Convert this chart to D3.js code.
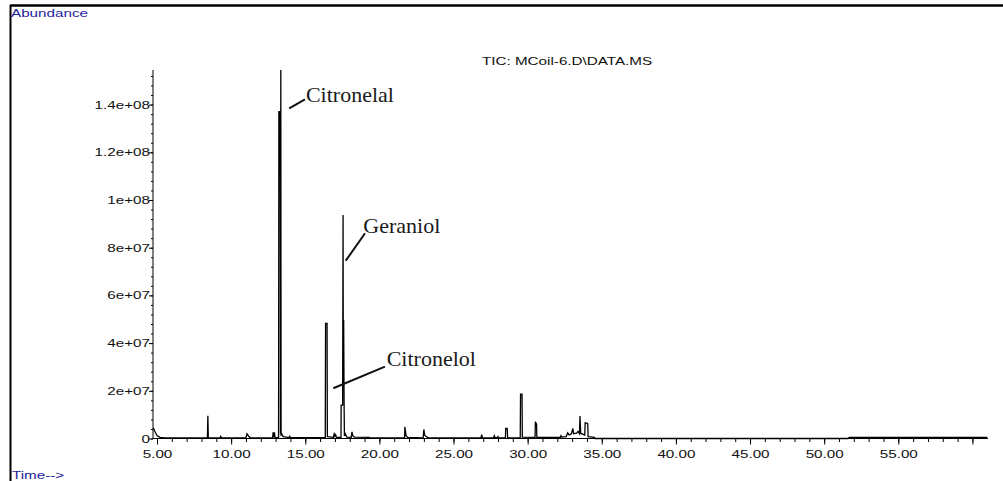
<!DOCTYPE html>
<html>
<head>
<meta charset="utf-8">
<title>TIC MCoil-6</title>
<style>
body { margin: 0; background: #fff; }
.lbl { font-family: "Liberation Sans", Arial, sans-serif; font-size: 10.5px; fill: #111; }
.blue { fill: #22229a; }
.ann { font-family: "Liberation Serif", "Times New Roman", serif; font-size: 22px; fill: #1a1a1a; }
.trace { fill: none; stroke: #000; stroke-width: 1.3px; stroke-linejoin: miter; }
</style>
<script src="https://cdn.jsdelivr.net/npm/d3@7"></script>
</head>
<body>
<svg width="1003" height="481"></svg>
<script>
// retention time (min) and abundance of the TIC trace
var times = [
  4.75, 4.85, 5.0, 5.2, 5.5, 7.9, 8.40, 8.43, 8.46, 9.25, 9.3, 9.35,
  11.0, 11.07, 11.2, 11.3, 12.8, 12.83, 12.87, 12.92, 12.96, 13.20,
  13.22, 13.30, 13.33, 13.35, 13.37, 13.42, 13.5, 13.9, 13.95, 14.0,
  16.35, 16.37, 16.47, 16.49, 16.9, 16.95, 17.0, 17.05, 17.1, 17.41,
  17.42, 17.52, 17.55, 17.56, 17.59, 17.62, 17.64, 17.7, 17.8, 18.1,
  18.15, 18.2, 18.3, 19.3, 19.35, 21.7, 21.72, 21.8, 21.9, 22.95, 23.0,
  23.05, 23.15, 23.3, 26.85, 26.9, 26.95, 27.7, 27.75, 27.8, 27.95, 28.0,
  28.05, 28.5, 28.52, 28.62, 28.65, 29.5, 29.52, 29.62, 29.64, 30.5,
  30.52, 30.6, 30.62, 32.2, 32.25, 32.3, 32.6, 32.7, 32.8, 32.95, 33.05,
  33.1, 33.3, 33.4, 33.5, 33.53, 33.58, 33.85, 33.88, 34.05, 34.08, 34.5,
  34.55, 51.6, 51.7, 61.0
];
var abundance = [
  4.5e6, 3.0e6, 1.2e6, 0.5e6, 0.3e6, 0.3e6, 0.3e6, 9.5e6, 0.3e6, 0.3e6, 0.9e6, 0.3e6,
  0.3e6, 2.0e6, 0.8e6, 0.3e6, 0.3e6, 2.6e6, 0.6e6, 2.6e6, 0.5e6, 0.4e6,
  1.37e8, 1.37e8, 2.0e6, 1.545e8, 1.5e6, 1.8e6, 0.8e6, 0.4e6, 0.9e6, 0.4e6,
  0.4e6, 4.83e7, 4.83e7, 0.8e6, 0.5e6, 1.9e6, 1.0e6, 1.6e6, 0.5e6, 0.5e6,
  1.4e7, 1.4e7, 9.37e7, 4.95e7, 4.95e7, 1.4e7, 1.0e6, 2.0e6, 0.6e6, 0.5e6,
  2.8e6, 1.2e6, 0.6e6, 0.5e6, 0.3e6, 0.3e6, 4.9e6, 1.2e6, 0.5e6, 0.3e6, 3.8e6,
  1.5e6, 0.8e6, 0.3e6, 0.3e6, 1.6e6, 0.3e6, 0.3e6, 1.2e6, 0.3e6, 0.5e6, 0.8e6,
  0.3e6, 0.3e6, 4.2e6, 4.2e6, 0.3e6, 0.3e6, 1.86e7, 1.86e7, 0.6e6, 0.5e6,
  7.0e6, 6.0e6, 0.5e6, 0.5e6, 1.2e6, 0.6e6, 0.8e6, 2.4e6, 1.5e6, 2.0e6, 4.2e6,
  2.0e6, 2.2e6, 3.0e6, 2.0e6, 9.4e6, 2.2e6, 1.5e6, 6.6e6, 6.3e6, 0.8e6, 0.5e6,
  0, 0, 0.5e6, 0.5e6
];

var yTicks = [0, 2e7, 4e7, 6e7, 8e7, 1e8, 1.2e8, 1.4e8];
var yTickLabels = ["0", "2e+07", "4e+07", "6e+07", "8e+07", "1e+08", "1.2e+08", "1.4e+08"];
var xTicks = [5, 10, 15, 20, 25, 30, 35, 40, 45, 50, 55, 60];
var xTickLabels = ["5.00", "10.00", "15.00", "20.00", "25.00", "30.00", "35.00", "40.00", "45.00", "50.00", "55.00", ""];

var peakNames = ["Citronelal", "Geraniol", "Citronelol"];
var peakTimes = [13.92, 17.73, 16.89];
var peakLevels = [1.384e8, 7.455e7, 2.105e7];

var svg = d3.select("svg");
var stretch = 1.45;

var x = d3.scaleLinear().domain([4.73, 61.05]).range([153, 988]);
var y = d3.scaleLinear().domain([0, 1.545e8]).range([438.5, 70]);

// frame
svg.append("line").attr("x1", 10).attr("x2", 1003).attr("y1", 5.5).attr("y2", 5.5)
  .attr("stroke", "#000").attr("stroke-width", 2.5);
svg.append("line").attr("x1", 10.5).attr("x2", 10.5).attr("y1", 5).attr("y2", 481)
  .attr("stroke", "#000").attr("stroke-width", 2);

// y axis
var yMinor = d3.range(0, 1.545e8, 4e6);
svg.append("g").attr("transform", "translate(153,0)")
  .call(d3.axisLeft(y).tickValues(yMinor).tickSize(2).tickFormat(""))
  .call(function(g) { g.select(".domain").remove(); });
var yAxis = svg.append("g").attr("transform", "translate(153,0)")
  .call(d3.axisLeft(y).tickValues(yTicks).tickSize(4)
    .tickFormat(function(d, i) { return yTickLabels[i]; }));
yAxis.select(".domain").attr("d", "M0," + y(0) + "V" + y.range()[1]);
yAxis.selectAll("text").attr("class", "lbl")
  .attr("x", -3 / stretch).attr("dy", "0.34em")
  .attr("transform", "scale(" + stretch + ",1)");

// x axis
var xMinor = d3.range(5, 61, 1);
svg.append("g").attr("transform", "translate(0," + y(0) + ")")
  .call(d3.axisBottom(x).tickValues(xMinor).tickSize(3.5).tickFormat(""))
  .call(function(g) { g.select(".domain").remove(); });
var xAxis = svg.append("g").attr("transform", "translate(0," + y(0) + ")")
  .call(d3.axisBottom(x).tickValues(xTicks).tickSize(6)
    .tickFormat(function(d, i) { return xTickLabels[i]; }));
xAxis.select(".domain").attr("d", "M153,0H988");
xAxis.selectAll("text").attr("class", "lbl")
  .attr("y", 19.5).attr("dy", null)
  .attr("transform", "scale(" + stretch + ",1)");

svg.selectAll(".tick line").attr("stroke", "#000");
svg.selectAll(".domain").attr("stroke", "#000");

// trace
var line = d3.line()
  .x(function(d) { return x(d[0]); })
  .y(function(d) { return y(d[1]); });
svg.append("path").attr("class", "trace")
  .attr("d", line(d3.zip(times, abundance)));

// texts
svg.append("text").attr("class", "lbl blue")
  .attr("transform", "translate(11,17) scale(" + stretch + ",1)")
  .text("Abundance");
svg.append("text").attr("class", "lbl blue")
  .attr("transform", "translate(12,479) scale(" + stretch + ",1)")
  .text("Time-->");
svg.append("text").attr("class", "lbl")
  .attr("transform", "translate(482,64.5) scale(" + stretch + ",1)")
  .text("TIC: MCoil-6.D\\DATA.MS");

// peak annotations
var pointerOffsets = [[15.7, -9], [19.3, -27.4], [51.7, -21.6]];
var textOffsets = [[1, 2.4], [-1.7, 0], [1.7, -1]];
peakNames.forEach(function(name, i) {
  var px = x(peakTimes[i]), py = y(peakLevels[i]);
  var ex = px + pointerOffsets[i][0], ey = py + pointerOffsets[i][1];
  svg.append("line").attr("x1", px).attr("y1", py).attr("x2", ex).attr("y2", ey)
    .attr("stroke", "#111").attr("stroke-width", 2);
  svg.append("text").attr("class", "ann")
    .attr("x", ex + textOffsets[i][0]).attr("y", ey + textOffsets[i][1])
    .text(name);
});
</script>
</body>
</html>
